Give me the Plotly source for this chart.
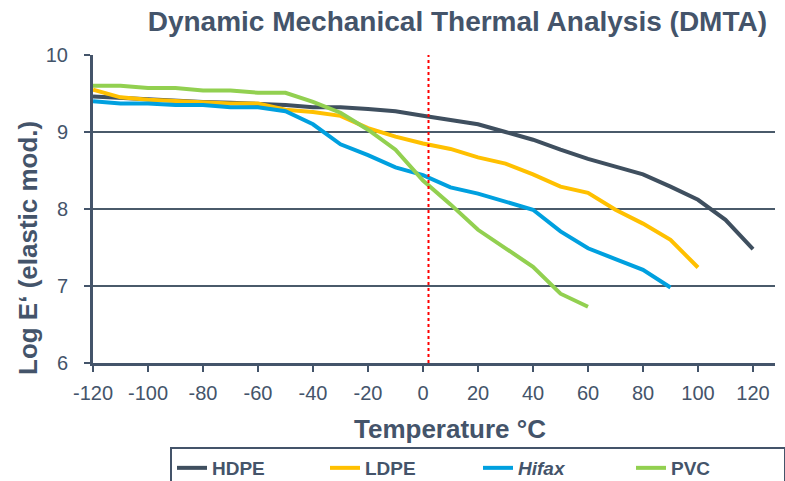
import plotly.graph_objects as go

TEMPS = [-120, -110, -100, -90, -80, -70, -60, -50, -40, -30, -20, -10, 0,
         10, 20, 30, 40, 50, 60, 70, 80, 90, 100, 110, 120]

HDPE = [9.46, 9.44, 9.42, 9.40, 9.39, 9.38, 9.37, 9.35, 9.32, 9.32, 9.30, 9.27, 9.21,
        9.16, 9.10, 9.00, 8.90, 8.77, 8.65, 8.55, 8.45, 8.29, 8.12, 7.86, 7.48]
LDPE = [9.55, 9.45, 9.42, 9.40, 9.39, 9.37, 9.37, 9.29, 9.26, 9.21, 9.05, 8.94, 8.85,
        8.78, 8.67, 8.59, 8.45, 8.29, 8.21, 7.99, 7.81, 7.60, 7.24]
HIFAX = [9.40, 9.37, 9.37, 9.35, 9.35, 9.32, 9.32, 9.27, 9.10, 8.84, 8.70, 8.54, 8.44,
         8.28, 8.20, 8.10, 7.99, 7.71, 7.49, 7.35, 7.21, 6.98]
PVC = [9.60, 9.60, 9.57, 9.57, 9.54, 9.54, 9.51, 9.51, 9.39, 9.25, 9.03, 8.77, 8.37,
       8.06, 7.73, 7.49, 7.25, 6.90, 6.73]

SERIES_NAMES = ["HDPE", "LDPE", "<i>Hifax</i>", "PVC"]
X_TICKS = [-120, -100, -80, -60, -40, -20, 0, 20, 40, 60, 80, 100, 120]
Y_TICKS = [6, 7, 8, 9, 10]
REF_TEMP = 2

TEXT = "#44546A"
COLORS = ["#3F4F5F", "#FFC000", "#00A0DF", "#92D050"]
FONT = "Liberation Sans, Arial, sans-serif"

fig = go.Figure()
for name, vals, col in zip(SERIES_NAMES, [HDPE, LDPE, HIFAX, PVC], COLORS):
    fig.add_trace(go.Scatter(
        x=TEMPS[:len(vals)], y=vals, mode="lines", name=name,
        line=dict(color=col, width=4)))

fig.add_shape(type="line", xref="x", yref="paper", x0=REF_TEMP, x1=REF_TEMP,
              y0=0, y1=1, line=dict(color="#FF0000", width=2, dash="dot"))

fig.update_layout(
    width=785, height=481,
    margin=dict(l=93, r=10, t=55, b=118, autoexpand=False),
    paper_bgcolor="white", plot_bgcolor="white",
    font=dict(family=FONT, color=TEXT, size=20),
    title=dict(text="<b>Dynamic Mechanical Thermal Analysis (DMTA)</b>",
               xref="container", yref="container", x=767 / 785, xanchor="right",
               y=1 - 21 / 481, yanchor="middle",
               font=dict(size=28, color=TEXT, family=FONT)),
    showlegend=True,
    legend=dict(orientation="h", x=(170 - 93) / 682, xanchor="left",
                y=(363 - 447) / 308, yanchor="top",
                bordercolor=TEXT, borderwidth=2, bgcolor="white",
                font=dict(size=19, color=TEXT, family=FONT, weight="bold"),
                entrywidth=108, entrywidthmode="pixels"),
)

fig.update_xaxes(range=[-120, 128], tickvals=X_TICKS, ticktext=[str(v) for v in X_TICKS],
                 showgrid=False, zeroline=False,
                 showline=True, linecolor=TEXT, linewidth=3,
                 ticks="outside", ticklen=6, tickwidth=2, tickcolor=TEXT,
                 tickfont=dict(size=20, color=TEXT), ticklabelstandoff=4)
fig.update_yaxes(range=[6, 10], tickvals=Y_TICKS, showgrid=True, gridcolor="#4A5A6A",
                 gridwidth=2, zeroline=False, showline=True, linecolor=TEXT, linewidth=3,
                 ticks="outside", ticklen=6, tickwidth=2, tickcolor=TEXT,
                 tickfont=dict(size=20, color=TEXT), ticklabelstandoff=12)

fig.add_annotation(text="<b>Log E‘ (elastic mod.)</b>", xref="paper", yref="paper",
                   x=(28 - 93) / 682, y=(363 - 248) / 308, textangle=-90,
                   showarrow=False, font=dict(size=26, color=TEXT, family=FONT),
                   xanchor="center", yanchor="middle")
fig.add_annotation(text="<b>Temperature °C</b>", xref="paper", yref="paper",
                   x=(450 - 93) / 682, y=(363 - 429) / 308,
                   showarrow=False, font=dict(size=26, color=TEXT, family=FONT),
                   xanchor="center", yanchor="middle")

fig.write_html("out.html")
